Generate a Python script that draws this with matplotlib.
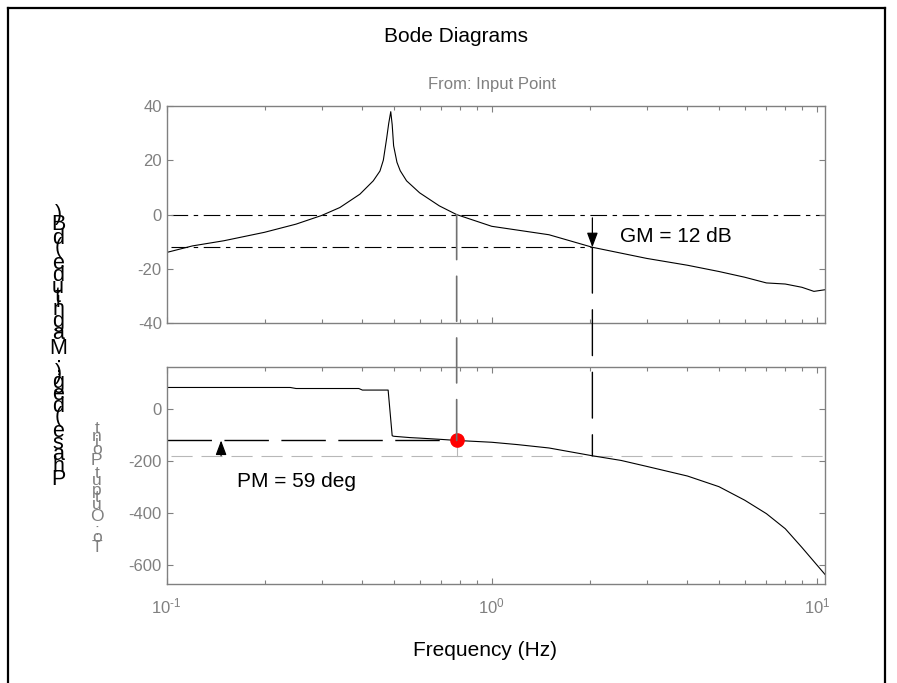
import matplotlib
matplotlib.use("Agg")
import matplotlib.pyplot as plt
from matplotlib.patches import ConnectionPatch
from matplotlib.lines import Line2D
from matplotlib.ticker import FixedLocator, NullFormatter, FixedFormatter

plt.rcParams['font.family'] = ['Liberation Sans', 'DejaVu Sans']
plt.rcParams['mathtext.fontset'] = 'custom'
plt.rcParams['mathtext.rm'] = 'Liberation Sans'
plt.rcParams['mathtext.it'] = 'Liberation Sans'
plt.rcParams['axes.unicode_minus'] = False

# ---------------- data ----------------
freq_mag = [0.1, 0.12, 0.15, 0.2, 0.25, 0.3, 0.341, 0.393, 0.432, 0.453, 0.464,
            0.475, 0.482, 0.489, 0.494, 0.499, 0.511, 0.523, 0.547, 0.6, 0.69,
            0.78, 1.0, 1.5, 2.04, 3, 4, 5, 6, 7, 8, 9, 9.8, 10.6]
mag_db = [-13.9, -11.5, -9.6, -6.5, -3.5, -0.3, 2.6, 7.5, 12.4, 16.0, 20.0,
          28.0, 33.5, 37.8, 33.0, 25.3, 19.2, 16.1, 12.4, 8.0, 3.2,
          0.0, -4.3, -7.4, -12.0, -16.1, -18.6, -20.9, -23.0, -25.1, -25.5,
          -26.7, -28.2, -27.6]

freq_ph = [0.1, 0.24, 0.25, 0.39, 0.40, 0.48, 0.494, 0.5, 0.56, 0.6, 0.7, 0.78,
           1.0, 1.2, 1.5, 2.04, 2.5, 3, 4, 5, 6, 7, 8, 9, 10.6]
phase_deg = [83, 83, 79, 79, 73, 73, -103, -105, -110, -112, -117, -121,
             -128, -137, -150, -180, -198, -221, -258, -299, -351, -403, -461,
             -533, -637]

gm_db = 12
wg = 2.04          # phase crossover frequency (Hz)
pm_deg = 59
wc = 0.78          # gain crossover frequency (Hz)

mag_ticks = [-40, -20, 0, 20, 40]
phase_ticks = [-600, -400, -200, 0]
x_major = [0.1, 1, 10]
x_labels = [r'$10^{\text{-1}}$', r'$10^{0}$', r'$10^{1}$']

title = "Bode Diagrams"
from_label = "From: Input Point"
to_label = "To: Output Point"
ylabel = "Phase (deg); Magnitude (dB)"
xlabel = "Frequency (Hz)"

# ---------------- figure ----------------
W, H = 897, 683
fig = plt.figure(figsize=(W / 100, H / 100), dpi=100)
fig.patch.set_facecolor('white')

def fx(x):
    return x / W

def fy(y):
    return 1 - y / H

L, R = 166.7, 825.0
ax1 = fig.add_axes([fx(L), fy(323.5), (R - L) / W, (323.5 - 105.7) / H])
ax2 = fig.add_axes([fx(L), fy(584.3), (R - L) / W, (584.3 - 366.7) / H])

GRAY = '#808080'
xmin, xmax = 0.1, 10.6
minors = [m * 10.0 ** e for e in (-1, 0, 1) for m in range(2, 10) if m * 10.0 ** e < xmax]

for ax in (ax1, ax2):
    ax.set_xscale('log')
    ax.set_xlim(xmin, xmax)
    ax.xaxis.set_major_locator(FixedLocator(x_major))
    ax.xaxis.set_minor_locator(FixedLocator(minors))
    ax.xaxis.set_minor_formatter(NullFormatter())
    for s in ax.spines.values():
        s.set_color(GRAY)
        s.set_linewidth(1.0)
    ax.tick_params(which='both', direction='in', top=True, right=True,
                   colors=GRAY, labelcolor=GRAY, labelsize=12)
    ax.tick_params(which='major', length=4.5, width=0.8)
    ax.tick_params(which='minor', length=3, width=0.8)

ax1.set_ylim(-40, 40)
ax1.set_yticks(mag_ticks)
ax1.xaxis.set_major_formatter(NullFormatter())
ax2.set_ylim(-675, 163)
ax2.set_yticks(phase_ticks)
ax2.xaxis.set_major_formatter(FixedFormatter(x_labels))
ax2.tick_params(axis='x', which='major', pad=9)

# curves
ax1.plot(freq_mag, mag_db, color='black', lw=0.8)
ax2.plot(freq_ph, phase_deg, color='black', lw=0.8)

# magnitude reference lines
ax1.plot([xmin * 1.03, xmax], [0, 0], color='black', lw=0.8,
         dashes=[15, 5, 4, 5], zorder=1)
ax1.plot([xmin * 1.03, wg], [-gm_db, -gm_db], color='black', lw=0.8,
         dashes=[15, 5, 4, 5], zorder=1)

# phase reference lines
ax2.plot([xmin * 1.03, xmax], [-180, -180], color='#b8b8b8', lw=0.8,
         dashes=[19, 8], zorder=1)
pm_line = -180 + pm_deg
ax2.plot([xmin, wc], [pm_line, pm_line], color='black', lw=1.0,
         dashes=[32, 9], zorder=2)
ax2.plot([wc, wc], [pm_line, -180], color='#b8b8b8', lw=0.8, zorder=1)

# vertical lines across both axes
con1 = ConnectionPatch(xyA=(wc, 0), coordsA=ax1.transData,
                       xyB=(wc, pm_line), coordsB=ax2.transData,
                       color='#707070', lw=1.2, linestyle=(0, (27, 10)))
fig.add_artist(con1)
con2 = ConnectionPatch(xyA=(wg, -gm_db), coordsA=ax1.transData,
                       xyB=(wg, -180), coordsB=ax2.transData,
                       color='black', lw=1.0, linestyle=(0, (33, 12)))
fig.add_artist(con2)

# arrows
ax1.annotate('', xy=(wg, -gm_db), xytext=(wg, -1.2),
             arrowprops=dict(arrowstyle='-|>,head_length=0.8,head_width=0.3',
                             color='black', lw=0.9, mutation_scale=11,
                             shrinkA=0, shrinkB=0))
ax2.annotate('', xy=(0.147, pm_line), xytext=(0.147, -180),
             arrowprops=dict(arrowstyle='-|>,head_length=0.8,head_width=0.3',
                             color='black', lw=0.9, mutation_scale=11,
                             shrinkA=0, shrinkB=0))

# red crossover marker
ax2.plot([wc], [pm_line], 'o', color='red', markersize=9.5, zorder=5)

# annotation texts
fig.text(fx(619.5), fy(237), f"GM = {gm_db} dB", fontsize=15, ha='left', va='center')
fig.text(fx(236.7), fy(481.7), f"PM = {pm_deg} deg", fontsize=15, ha='left', va='center')

# titles and labels
fig.text(fx(456), fy(36), title, fontsize=15, ha='center', va='center')
fig.text(fx(492), fy(84), from_label, fontsize=12, ha='center', va='center', color=GRAY)
fig.text(fx(485), fy(651), xlabel, fontsize=15, ha='center', va='center')

# stacked (upright glyph) y-labels, advances from Arial-metric widths
ADV = {'P': 667, 'h': 556, 'a': 556, 's': 500, 'e': 556, ' ': 278, '(': 333,
       'd': 556, 'g': 556, ')': 333, ';': 278, 'M': 833, 'n': 556, 'i': 222,
       't': 278, 'u': 556, 'B': 667, 'T': 611, 'o': 556, ':': 278, 'O': 778,
       'p': 556}

def stacked(text, xc, ybottom, size, color):
    em = size * 100 / 72.0
    cum = 0.0
    for ch in text:
        w = ADV.get(ch, 556) / 1000.0
        yc = ybottom - (cum + w / 2) * em
        if ch != ' ':
            fig.text(fx(xc), fy(yc), ch, fontsize=size, ha='center',
                     va='center', color=color)
        cum += w

stacked(ylabel, 58, 487, 15.5, 'black')
stacked(to_label, 96.7, 553, 12.5, GRAY)

# figure frame (left, top, right)
for (x0, y0, x1, y1) in [(8, 8, 8, H), (8, 8, 885, 8), (885, 8, 885, H)]:
    fig.add_artist(Line2D([fx(x0), fx(x1)], [fy(y0), fy(y1)], color='black',
                          lw=1.6, transform=fig.transFigure))

fig.savefig('out.png', dpi=100)
